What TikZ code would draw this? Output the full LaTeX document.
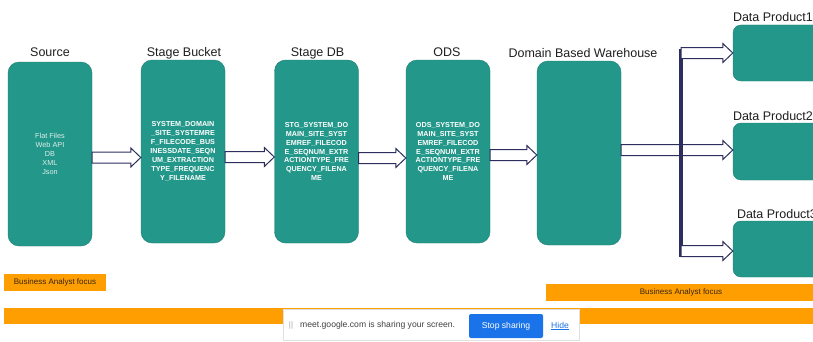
\documentclass[tikz,border=0pt]{standalone}
\usepackage{fontspec}
\setmainfont{Liberation Sans}
\usetikzlibrary{calc,positioning}
\definecolor{tealbox}{RGB}{35,151,137}
\definecolor{navy}{RGB}{44,47,94}
\definecolor{focus}{RGB}{255,158,0}
\definecolor{meetblue}{RGB}{26,115,232}
\tikzset{
	stagebox/.style={
			rectangle, rounded corners=11pt, fill=tealbox, draw=tealbox!85!black, line width=0.4pt,
			minimum width=84pt, minimum height=183pt, inner sep=0pt, align=center,
			text=white, font=\fontsize{7.2}{8.9}\selectfont\bfseries
		},
	productbox/.style={stagebox, rounded corners=8pt, minimum width=90pt, minimum height=56pt},
	title/.style={anchor=base, inner sep=0pt, text=black!88, font=\fontsize{12.5}{14}\selectfont},
	flow/.style={draw=navy, line width=1pt, fill=white, line join=miter},
	bus/.style={draw=navy, line width=3.5pt},
	focusbar/.style={rectangle, fill=focus, inner sep=0pt, text=black!70!brown, font=\fontsize{8}{9}\selectfont}
}
\newcommand{\flowarrow}[3]{
	\coordinate (fa-t) at ($(#1)+(0,#3)$);
	\coordinate (fa-h) at (#2.west |- fa-t);
	\draw[flow] ($(fa-t)+(0,5.5)$) -- ($(fa-h)+(-10,5.5)$) -- ($(fa-h)+(-10,9.5)$) -- (fa-h)
		-- ($(fa-h)+(-10,-9.5)$) -- ($(fa-h)+(-10,-5.5)$) -- ($(fa-t)+(0,-5.5)$) -- cycle;
}

\begin{document}
\begin{tikzpicture}[x=1pt, y=1pt]
        \useasboundingbox (0,0) rectangle (813,341);
        \fill[white] (0,0) rectangle (813,341);
        \clip (0,0) rectangle (813,341);

        \node[stagebox, minimum height=184pt, font=\fontsize{7.3}{9}\selectfont, text=white!85!tealbox] (src) at (50,187) {Flat Files\\Web API\\DB\\XML\\Json};
        \node[stagebox] (stage) at (183,189.5) {SYSTEM\_DOMAIN\\\_SITE\_SYSTEMRE\\F\_FILECODE\_BUS\\INESSDATE\_SEQN\\UM\_EXTRACTION\\TYPE\_FREQUENC\\Y\_FILENAME};
        \node[stagebox] (stgdb) at (316.5,189.5) {STG\_SYSTEM\_DO\\MAIN\_SITE\_SYST\\EMREF\_FILECOD\\E\_SEQNUM\_EXTR\\ACTIONTYPE\_FRE\\QUENCY\_FILENA\\ME};
        \node[stagebox] (ods) at (448,189.5) {ODS\_SYSTEM\_DO\\MAIN\_SITE\_SYST\\EMREF\_FILECOD\\E\_SEQNUM\_EXTR\\ACTIONTYPE\_FRE\\QUENCY\_FILENA\\ME};
        \node[stagebox, minimum height=184pt] (dwh) at (579,188) {};
        \node[productbox] (dp1) at (778,288) {};
        \node[productbox, minimum height=57pt] (dp2) at (778,189.5) {};
        \node[productbox] (dp3) at (778,92) {};

        \node[title] (srctitle) at ($(src.north)+(0,5)$) {Source};
        \node[title] (stagetitle) at ($(stage.north)+(1,3)$) {Stage Bucket};
        \node[title] (stgdbtitle) at ($(stgdb.north)+(1,3)$) {Stage DB};
        \node[title] (odstitle) at ($(ods.north)+(-1,3)$) {ODS};
        \node[title] (dwhtitle) at ($(dwh.north)+(4,3)$) {Domain Based Warehouse};
        \node[title, anchor=base west] (dp1title) at ($(dp1.north west)+(0,3)$) {Data Product1};
        \node[title, anchor=base west] (dp2title) at ($(dp2.north west)+(0,2)$) {Data Product2};
        \node[title, anchor=base west] (dp3title) at ($(dp3.north west)+(4,2)$) {Data Product3};

        \flowarrow{src.east}{stage}{-3.5}
        \flowarrow{stage.east}{stgdb}{-5.5}
        \flowarrow{stgdb.east}{ods}{-6.5}
        \flowarrow{ods.east}{dwh}{-3.5}
        \flowarrow{dwh.east}{dp2}{3}

        \coordinate (bustop) at (681,292);
        \coordinate (busbot) at (681,84);
        \draw[bus] (bustop) -- (busbot);
        \flowarrow{bustop |- dp1.west}{dp1}{0}
        \flowarrow{busbot |- dp3.west}{dp3}{-2}

        \node[focusbar, minimum width=102pt, minimum height=17pt] (baleft) at (55,58.5) {Business Analyst focus};
        \node[focusbar, minimum width=270pt, minimum height=17pt] (baright) at (681,48.5) {Business Analyst focus};
        \node[focusbar, minimum width=812pt, minimum height=16pt] (engbar) at (410,25) {};

        \node[rectangle, fill=white, draw=black!12, minimum width=296pt, minimum height=31pt] (share) at (431,16) {};
        \node[text=black!35, font=\fontsize{8}{9}\selectfont] (grip) at (291,16) {||};
        \node[anchor=west, inner sep=0pt, text=black!75, font=\fontsize{8.6}{10}\selectfont] (sharetext) at (300,16) {meet.google.com is sharing your screen.};
        \node[rectangle, rounded corners=2pt, fill=meetblue, text=white, minimum width=74pt, minimum height=24pt, font=\fontsize{8.6}{10}\selectfont] (stopbtn) at (506,15) {Stop sharing};
        \node[text=meetblue, inner sep=0pt, font=\fontsize{8.6}{10}\selectfont] (hide) at (560,15) {\underline{Hide}};
    \end{tikzpicture}
\end{document}
